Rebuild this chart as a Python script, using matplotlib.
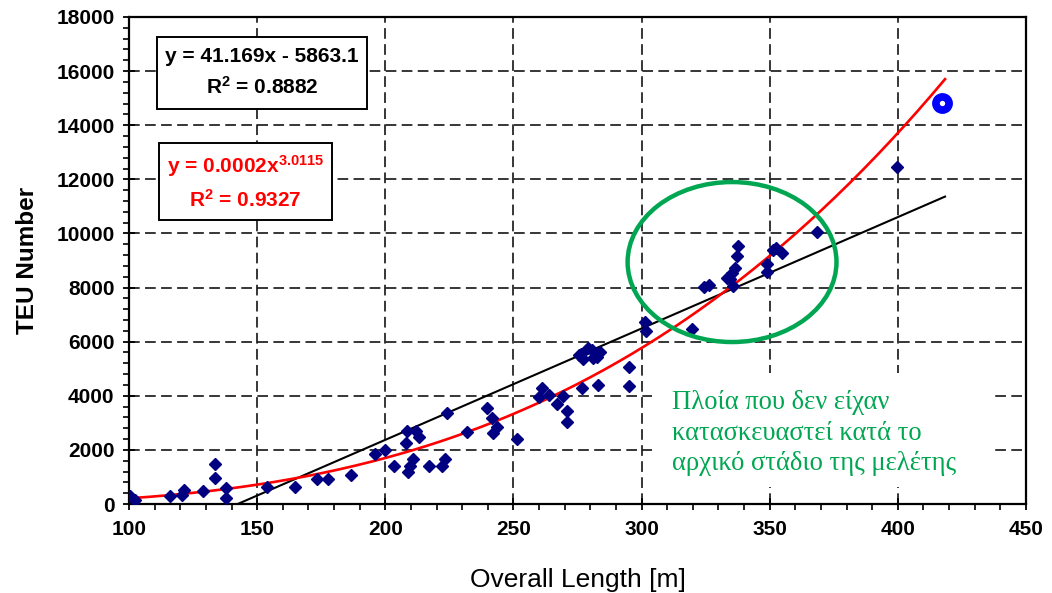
import numpy as np
import matplotlib
matplotlib.use("Agg")
import matplotlib.pyplot as plt
from matplotlib.ticker import MultipleLocator
from matplotlib.patches import Ellipse, Rectangle

# ---- data ----
length_m = [100.4, 102.5, 116, 120.7, 121.5, 129, 133.6, 133.6, 138, 138,
            154, 164.8, 173.3, 177.6, 186.5, 196, 200, 203.4, 208, 208.5,
            212, 213.3, 210.8, 209.6, 208.7, 217, 222.3, 223.3, 224, 231.7,
            239.8, 241.6, 243.6, 242, 251.4, 260, 261, 264, 267, 269.5,
            270.9, 270.9, 276.7, 283, 275.5, 277, 279, 280.8, 282.6, 283.8,
            276.5, 281, 295, 295, 301.3, 301.6, 319.7, 324.5, 326.3, 333.3,
            335.3, 336.4, 337.4, 337.8, 335.5, 334.5, 348.8, 349, 351.2, 352.5,
            354.6, 368.6, 399.6]
teu = [300, 150, 300, 330, 520, 480, 1480, 960, 590, 220,
       630, 610, 920, 920, 1070, 1850, 2000, 1400, 2250, 2680,
       2680, 2460, 1680, 1400, 1180, 1400, 1400, 1660, 3360, 2660,
       3530, 3180, 2850, 2620, 2420, 3950, 4270, 4030, 3680, 4010,
       3420, 3030, 4290, 4400, 5500, 5360, 5760, 5700, 5430, 5620,
       5550, 5400, 5080, 4360, 6710, 6400, 6450, 8020, 8090, 8350,
       8540, 8740, 9150, 9530, 8060, 8300, 8560, 8860, 9380, 9450,
       9280, 10070, 12450]
highlight_length = [417.2]
highlight_teu = [14820]

lin_a, lin_b, lin_r2 = 41.169, -5863.1, "0.8882"
pow_a, pow_b, pow_r2 = 0.0002, 3.0115, "0.9327"

x_ticks = [100, 150, 200, 250, 300, 350, 400, 450]
y_ticks = [0, 2000, 4000, 6000, 8000, 10000, 12000, 14000, 16000, 18000]

note_text = "Πλοία που δεν είχαν\nκατασκευαστεί κατά το\nαρχικό στάδιο της μελέτης"
green = "#00A651"

plt.rcParams['font.family'] = ['Liberation Sans', 'DejaVu Sans']
plt.rcParams['mathtext.fontset'] = 'custom'
plt.rcParams['mathtext.rm'] = 'Liberation Sans:bold'
plt.rcParams['mathtext.it'] = 'Liberation Sans:bold'
plt.rcParams['mathtext.bf'] = 'Liberation Sans:bold'

W, H = 1052, 593
fig = plt.figure(figsize=(W / 100, H / 100), dpi=100)
ax = fig.add_axes([129 / W, 1 - 504 / H, (1026 - 129) / W, (504 - 17) / H])

ax.set_xlim(100, 450)
ax.set_ylim(0, 18000)
ax.set_xticks(x_ticks)
ax.set_yticks(y_ticks)
ax.xaxis.set_minor_locator(MultipleLocator(10))
ax.yaxis.set_minor_locator(MultipleLocator(400))
ax.tick_params(which='major', direction='inout', length=9, width=1.3,
               labelsize=15, pad=6)
ax.tick_params(which='minor', direction='out', length=4.5, width=1.2)
ax.tick_params(axis='x', which='major', pad=7)
for lab in ax.get_xticklabels() + ax.get_yticklabels():
    lab.set_fontweight('bold')
for sp in ax.spines.values():
    sp.set_linewidth(1.6)

ax.grid(True, which='major', color='black', linewidth=1.1,
        linestyle=(0, (7, 3.5)))
ax.set_axisbelow(True)

# trend lines from the printed equations
xl = np.linspace(-lin_b / lin_a, 418.4, 200)
ax.plot(xl, lin_a * xl + lin_b, color='black', lw=1.5, zorder=3)
xp = np.linspace(100, 418.4, 300)
ax.plot(xp, pow_a * xp ** pow_b, color='#FF0000', lw=1.9, zorder=3)

ax.plot(length_m, teu, linestyle='none', marker='D', ms=6,
        color='#000080', mec='#000080', zorder=4)
ax.plot(highlight_length, highlight_teu, linestyle='none', marker='o', ms=9.5,
        mfc='white', mec='#0000FF', mew=5.5, zorder=4)

ax.add_patch(Ellipse((335.3, 8943), 81.5, 5913, fill=False,
                     edgecolor=green, lw=3.2, zorder=5))

ax.set_xlabel("Overall Length [m]", fontsize=19, labelpad=21)
ax.set_ylabel("TEU Number", fontsize=17.5, fontweight='bold', labelpad=12)

# equation boxes (figure pixel coords)
def fx(px):
    return px / W

def fy(py):
    return 1 - py / H

fig.patches.append(Rectangle((fx(157), fy(109)), fx(367) - fx(157), fy(37) - fy(109),
                             transform=fig.transFigure, facecolor='white',
                             edgecolor='black', lw=1.4, zorder=6))
fig.text(fx(262), fy(57), "y = %.3fx - %.1f" % (lin_a, -lin_b), ha='center',
         va='center', fontsize=15, fontweight='bold', color='black', zorder=7)
fig.text(fx(262), fy(87), r"$\mathrm{R}^{\mathrm{2}}$ = " + lin_r2, ha='center',
         va='center', fontsize=15, fontweight='bold', color='black', zorder=7)

fig.patches.append(Rectangle((fx(159), fy(220)), fx(332) - fx(159), fy(143) - fy(220),
                             transform=fig.transFigure, facecolor='white',
                             edgecolor='black', lw=1.4, zorder=6))
fig.text(fx(245.5), fy(166), r"y = 0.0002$\mathrm{x}^{\mathrm{3.0115}}$", ha='center',
         va='center', fontsize=15, fontweight='bold', color='#FF0000', zorder=7)
fig.text(fx(245.5), fy(200), r"$\mathrm{R}^{\mathrm{2}}$ = " + pow_r2, ha='center',
         va='center', fontsize=15, fontweight='bold', color='#FF0000', zorder=7)

# white area behind the note
fig.patches.append(Rectangle((fx(652), fy(487)), fx(990) - fx(652), fy(373) - fy(487),
                             transform=fig.transFigure, facecolor='white',
                             edgecolor='none', zorder=6))
fig.text(fx(672), fy(433), note_text, ha='left', va='center', fontsize=19.2,
         family=['Liberation Serif', 'DejaVu Serif'], color=green,
         linespacing=1.27, zorder=7)

fig.savefig("out.png", dpi=100)
